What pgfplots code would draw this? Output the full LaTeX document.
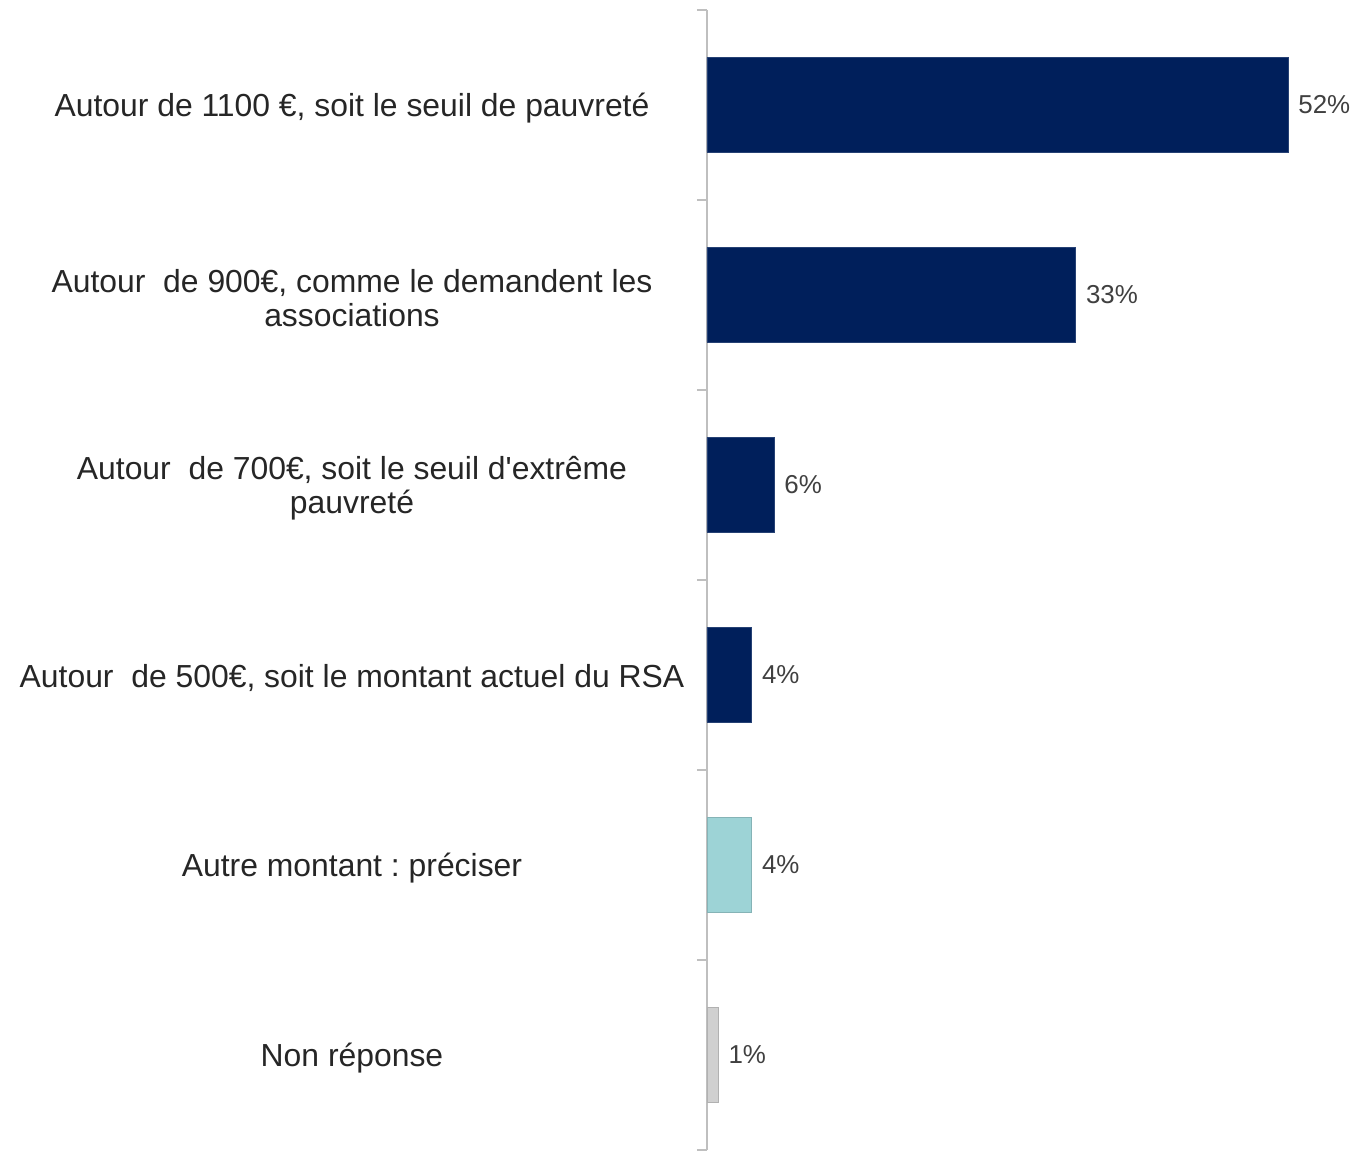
\documentclass[border=0pt]{standalone}
\usepackage{pgfplots}
\pgfplotsset{compat=1.18}
\usepackage{fontspec}
\setmainfont{Liberation Sans}
\frenchspacing
\definecolor{navy}{HTML}{001F5B}
\definecolor{teal2}{HTML}{9DD3D6}
\definecolor{grey2}{HTML}{D0D0D0}
\definecolor{axgrey}{HTML}{BFBFBF}
\definecolor{txt}{HTML}{262626}
\definecolor{vtxt}{HTML}{404040}
\begin{document}
\begin{tikzpicture}
\begin{axis}[
  scale only axis,
  width=324bp, height=570bp,
  xbar, bar width=0.5, bar shift=0pt,
  xmin=0, xmax=58,
  ymin=-0.5, ymax=5.5, y dir=reverse,
  axis y line*=left, axis x line=none,
  y axis line style={draw=axgrey, line width=0.8bp},
  ytick={0,1,2,3,4,5},
  yticklabels={
    {Autour de 1100 €, soit le seuil de pauvreté},
    {Autour~ de 900€, comme le demandent les\\associations},
    {Autour~ de 700€, soit le seuil d\textquotesingle extrême\\pauvreté},
    {Autour~ de 500€, soit le montant actuel du RSA},
    {Autre montant : préciser},
    {Non réponse}},
  major tick length=0pt,
  minor ytick={-0.5,0.5,1.5,2.5,3.5,4.5,5.5},
  minor tick length=5bp,
  tick align=outside,
  minor tick style={draw=axgrey, line width=0.8bp},
  yticklabel style={anchor=center, align=center, xshift=-177.5bp, yshift=-1.5bp, font=\fontsize{16}{17}\selectfont, text=txt},
  /pgf/number format/assume math mode=true,
  nodes near coords={\pgfmathprintnumber{\pgfplotspointmeta}\%},
  nodes near coords style={anchor=west, inner sep=0pt, xshift=5bp, font=\fontsize{13}{14}\selectfont, text=vtxt},
  clip=false,
]
\addplot[fill=navy, draw=navy!85!white] coordinates {(52,0) (33,1) (6,2) (4,3)};
\addplot[fill=teal2, draw=teal2!85!black] coordinates {(4,4)};
\addplot[fill=grey2, draw=grey2!85!black] coordinates {(1,5)};
\end{axis}
\pgfresetboundingbox
\path ([xshift=-353.5bp,yshift=-0.5bp]current axis.south west) rectangle ([yshift=5bp]current axis.north east);
\end{tikzpicture}
\end{document}
